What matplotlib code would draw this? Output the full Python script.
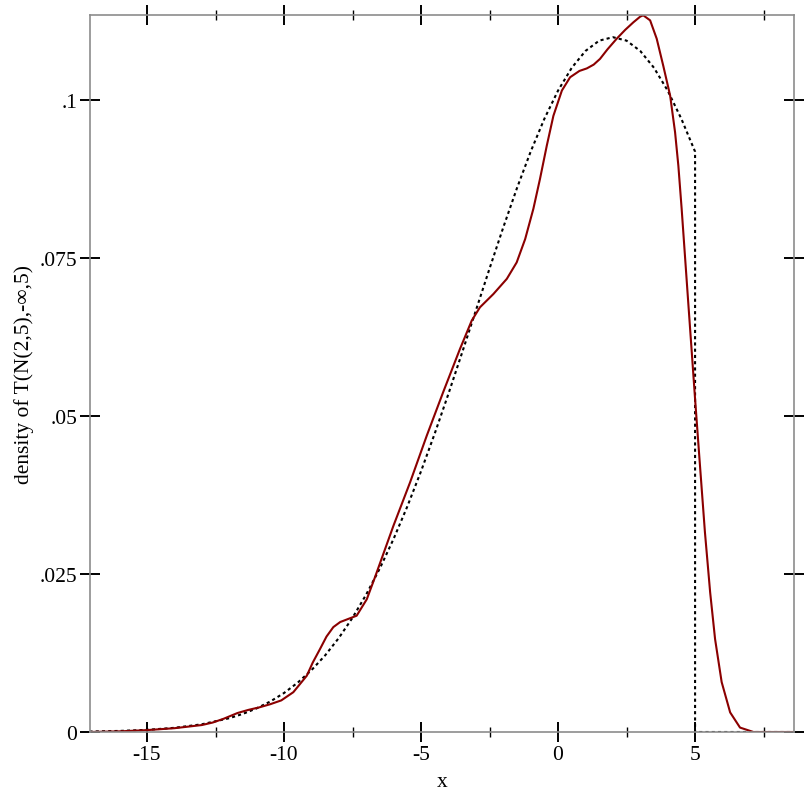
import matplotlib
matplotlib.use("Agg")
import matplotlib.pyplot as plt
from matplotlib.ticker import FixedLocator

# exact density of the truncated normal (dashed)
dens_x = [-17.1, -17, -16, -15, -14, -13, -12, -11.5, -11, -10.5, -10, -9.5, -9,
          -8.5, -8, -7.5, -7, -6.5, -6, -5.5, -5, -4.5, -4, -3.5, -3, -2.5, -2,
          -1.5, -1, -0.5, 0, 0.5, 1, 1.5, 2, 2.5, 3, 3.5, 4, 4.5, 5, 5, 8.6]
dens_y = [0.00007, 0.00008, 0.00017, 0.00034, 0.00066, 0.00122, 0.00218, 0.00287,
          0.00374, 0.00483, 0.00617, 0.00781, 0.00978, 0.01212, 0.01488, 0.01808,
          0.02176, 0.02592, 0.03057, 0.03569, 0.04126, 0.04723, 0.05351, 0.06004,
          0.06668, 0.07333, 0.07983, 0.08605, 0.09183, 0.09702, 0.10149, 0.10510,
          0.10776, 0.10939, 0.10994, 0.10939, 0.10776, 0.10510, 0.10149, 0.09702,
          0.09183, 0.0, 0.0]

# sample kernel density estimate (red)
kde_x = [-17.1, -16.0, -15.0, -14.0, -13.0, -12.6, -12.2, -11.7, -11.3, -10.9,
         -10.5, -10.1, -9.66, -9.17, -8.95, -8.69, -8.45, -8.2, -7.95, -7.71,
         -7.35, -6.98, -6.68, -6.01, -5.40, -4.79, -4.19, -3.58, -3.15, -2.95,
         -2.85, -2.36, -1.87, -1.51, -1.20, -0.90, -0.66, -0.41, -0.17, 0.14,
         0.44, 0.78, 1.05, 1.3, 1.53, 1.8, 2.14, 2.45, 2.75, 3.0, 3.11, 3.36,
         3.60, 3.84, 4.09, 4.27, 4.39, 4.51, 4.75, 5.0, 5.18, 5.36, 5.55, 5.73,
         5.97, 6.28, 6.64, 7.13, 8.6]
kde_y = [0.0, 0.0001, 0.0003, 0.0006, 0.0011, 0.0015, 0.0021, 0.0030, 0.0035,
         0.0039, 0.0044, 0.0050, 0.0063, 0.0089, 0.0110, 0.0131, 0.0151, 0.0166,
         0.0174, 0.0178, 0.0184, 0.0210, 0.0245, 0.0326, 0.0395, 0.0469, 0.0538,
         0.0606, 0.0651, 0.0665, 0.0672, 0.0693, 0.0717, 0.0743, 0.0780, 0.0828,
         0.0875, 0.0928, 0.0975, 0.1015, 0.1036, 0.1046, 0.1050, 0.1056, 0.1065,
         0.1080, 0.1097, 0.1111, 0.1123, 0.1132, 0.1134, 0.1126, 0.1097, 0.1054,
         0.1007, 0.0949, 0.0896, 0.0828, 0.0680, 0.0527, 0.0421, 0.0316, 0.0221,
         0.0147, 0.0079, 0.0031, 0.0007, 0.0, 0.0]

x_major = [-15, -10, -5, 0, 5]
x_minor = [-12.5, -7.5, -2.5, 2.5, 7.5]
y_major = [0, 0.025, 0.05, 0.075, 0.1]
y_labels = ["0", ".025", ".05", ".075", ".1"]

plt.rcParams['font.family'] = ['Liberation Serif', 'DejaVu Serif']

fig = plt.figure(figsize=(8.12, 8.12), dpi=100)
ax = fig.add_axes([90 / 812, 79 / 812, 704 / 812, 717 / 812])

ax.plot(dens_x, dens_y, color='black', lw=1.5, linestyle=(0, (1.5, 1.5)))
ax.plot(kde_x, kde_y, color='#8b0000', lw=1.5, solid_joinstyle='round')

ax.set_xlim(-17.08, 8.61)
ax.set_ylim(0, 0.11345)

for s in ax.spines.values():
    s.set_color('#8c8c8c')
    s.set_linewidth(1.2)

ax.xaxis.set_major_locator(FixedLocator(x_major))
ax.xaxis.set_minor_locator(FixedLocator(x_minor))
ax.set_xticklabels([str(v) for v in x_major])
ax.yaxis.set_major_locator(FixedLocator(y_major))
ax.set_yticklabels(y_labels)

ax.tick_params(which='major', direction='inout', length=14.4, width=1.4,
               color='black', labelsize=15.5, top=True, right=True, pad=2)
ax.tick_params(which='minor', direction='inout', length=7, width=1,
               color='black', top=True, right=True)

ax.set_xlabel("x", fontsize=15.5, labelpad=6)
ax.set_ylabel("density of T(N(2,5),-∞,5)", fontsize=15.5, labelpad=4)

fig.savefig("out.png", dpi=100)
